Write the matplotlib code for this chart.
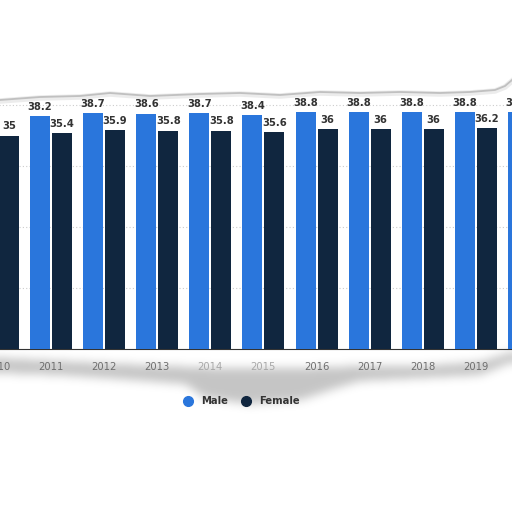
"""Torn-out Statista style grouped bar chart: median age by sex, 2010-2020."""

import numpy as np
from matplotlib import pyplot as plt
from matplotlib.lines import Line2D
from matplotlib.path import Path

YEARS = ["2010", "2011", "2012", "2013", "2014", "2015", "2016", "2017", "2018", "2019", "2020"]
MALE = [37.9, 38.2, 38.7, 38.6, 38.7, 38.4, 38.8, 38.8, 38.8, 38.8, 38.8]
FEMALE = [35.0, 35.4, 35.9, 35.8, 35.8, 35.6, 36.0, 36.0, 36.0, 36.2, 36.3]

MALE_COLOR = "#2a76dc"
FEMALE_COLOR = "#10263f"
PX = 512


def box_blur(img, r, passes=3):
    # separable box blur, repeated -> roughly gaussian
    for _ in range(passes):
        for axis in (0, 1):
            pad = [(0, 0), (0, 0)]
            pad[axis] = (r + 1, r)
            c = np.cumsum(np.pad(img, pad, mode="edge"), axis=axis)
            if axis == 0:
                img = (c[2 * r + 1:] - c[:-2 * r - 1]) / (2 * r + 1)
            else:
                img = (c[:, 2 * r + 1:] - c[:, :-2 * r - 1]) / (2 * r + 1)
    return img


fig = plt.figure(figsize=(5.12, 5.12), dpi=100)
fig.patch.set_facecolor("white")

# overlay in pixel coords for the torn paper edges (drawn behind the chart)
deco = fig.add_axes([0, 0, 1, 1], zorder=0)
deco.axis("off")

top_edge = np.array([(0, 100), (40, 97), (80, 96), (110, 93), (150, 96), (200, 94), (240, 93),
                     (280, 95), (320, 92), (360, 93), (400, 92), (440, 93), (470, 92), (495, 90),
                     (505, 86), (512, 80)])
shadow = [(0, 358), (60, 361), (120, 364), (170, 366), (220, 368), (300, 368), (360, 366),
          (420, 366), (480, 362), (512, 352), (512, 362), (480, 375), (420, 378), (360, 381),
          (330, 390), (300, 400), (250, 404), (205, 398), (185, 384), (120, 379), (60, 375), (0, 373)]

yy, xx = np.mgrid[0:PX, 0:PX]
pts = np.column_stack([xx.ravel() + 0.5, yy.ravel() + 0.5])
mask = Path(shadow).contains_points(pts).reshape(PX, PX).astype(float)
mask = box_blur(mask, 4) * 0.5
rgba = np.zeros((PX, PX, 4))
rgba[..., :3] = 0.55
rgba[..., 3] = np.clip(mask, 0, 0.6)
deco.imshow(rgba, extent=(0, PX, PX, 0), interpolation="bilinear", zorder=1)
deco.plot(top_edge[:, 0], top_edge[:, 1] + 1, color="#999999", lw=4, alpha=0.18, zorder=2)
deco.plot(top_edge[:, 0], top_edge[:, 1], color="#b5b5b5", lw=1.3, alpha=0.8, zorder=2)
deco.set_xlim(0, PX)
deco.set_ylim(PX, 0)

# main chart; the axes run past the figure edges so 2010 and 2020 are cut like the torn original
base_px = 349.0
unit_px = 6.1
step_px = 53.1
first_px = 51 - 1.5 * step_px
width_px = 11 * step_px
ax = fig.add_axes([first_px / PX, 1 - base_px / PX, width_px / PX, base_px / PX], zorder=1)
ax.set_facecolor("none")

x = np.arange(len(YEARS))
width = 20 / step_px
offset = 11 / step_px
bm = ax.bar(x - offset, MALE, width, color=MALE_COLOR, zorder=3)
bf = ax.bar(x + offset, FEMALE, width, color=FEMALE_COLOR, zorder=3)
for bars in (bm, bf):
    ax.bar_label(bars, labels=[f"{v:g}" for v in bars.datavalues], padding=3,
                 fontsize=7.2, fontweight="bold", color="#333333", zorder=4)

ax.set_xticks(x)
ax.set_xticklabels(YEARS, fontsize=7.2, color="#6e6e6e")
ax.tick_params(axis="x", length=0, pad=9)
for lbl in ax.get_xticklabels():
    if lbl.get_text() in ("2014", "2015"):
        lbl.set_color("#a8a8a8")
ax.set_xlim(-0.5, len(YEARS) - 0.5)
ax.set_ylim(0, base_px / unit_px)
ax.set_yticks([10, 20, 30, 40])
ax.grid(True, axis="y", linestyle=(0, (1, 2)), color="#cccccc", linewidth=0.8, zorder=0)
ax.tick_params(axis="y", left=False, labelleft=False)
for side in ("top", "right", "left"):
    ax.spines[side].set_visible(False)
ax.spines["bottom"].set_color("#333333")
ax.spines["bottom"].set_linewidth(0.8)

handles = [Line2D([], [], marker="o", ls="none", markersize=7, color=MALE_COLOR, label="Male"),
           Line2D([], [], marker="o", ls="none", markersize=7, color=FEMALE_COLOR, label="Female")]
leg = fig.legend(handles=handles, loc="center", bbox_to_anchor=(239 / PX, 1 - 401 / PX), ncol=2,
                 frameon=False, fontsize=7.2, handletextpad=0.3, columnspacing=0.8)
for t in leg.get_texts():
    t.set_color("#333333")
    t.set_fontweight("bold")

fig.savefig("out.png", dpi=100, facecolor="white")
